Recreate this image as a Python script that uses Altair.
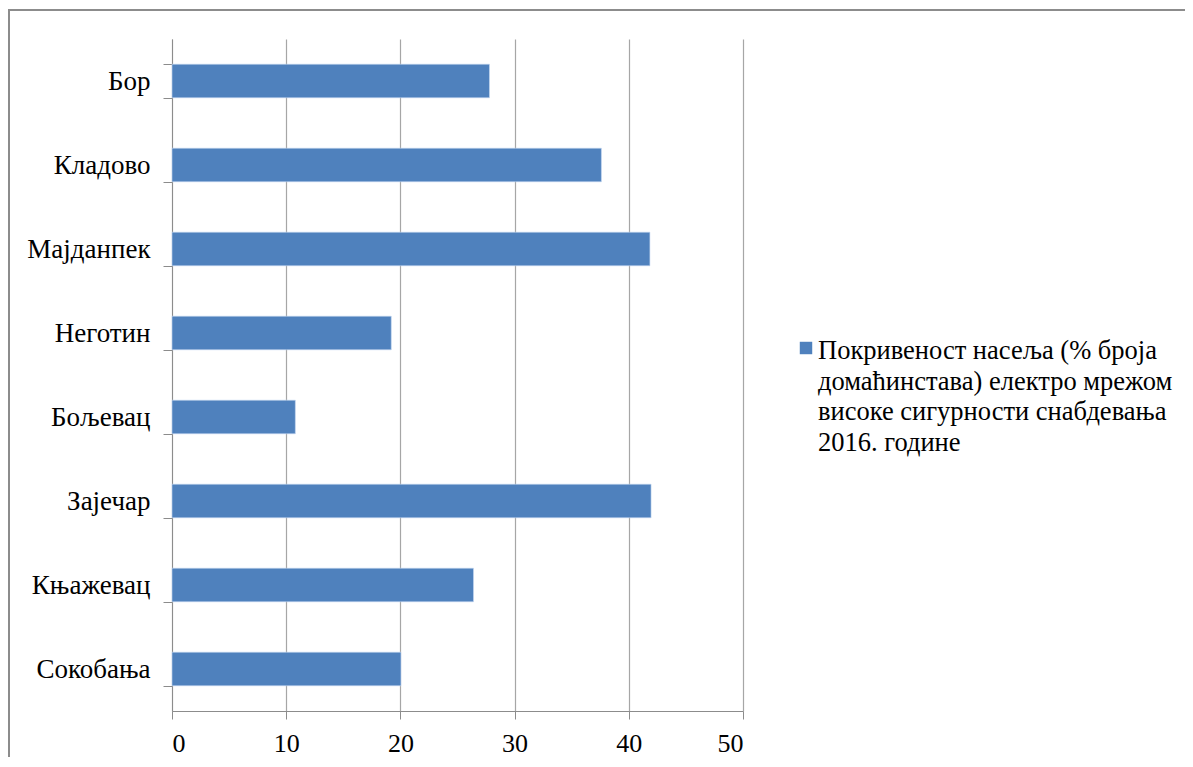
import altair as alt
import pandas as pd

categories = ["Бор", "Кладово", "Мајданпек", "Неготин", "Бољевац", "Зајечар", "Књажевац", "Сокобања"]
values = [27.8, 37.6, 41.85, 19.2, 10.8, 41.95, 26.4, 20.05]
x_ticks = [0, 10, 20, 30, 40, 50]
series_lines = ["Покривеност насеља (% броја", "домаћинстава) електро мрежом",
                "високе сигурности снабдевања", "2016. године"]

BLUE = "#4F81BD"
FONT = "Liberation Serif"

df = pd.DataFrame({"cat": categories, "val": values})

W, H = 571, 672

bars = alt.Chart(df).mark_bar(color=BLUE, stroke="#c6d9f1", strokeWidth=0.6).encode(
    y=alt.Y("cat:N", sort=categories,
            scale=alt.Scale(paddingInner=0.6, paddingOuter=0.3),
            axis=alt.Axis(title=None, tickBand="extent", tickSize=9, labelPadding=13,
                          labelFont=FONT, labelFontSize=27, labelColor="#000",
                          domainColor="#8c8c8c", tickColor="#8c8c8c", grid=False)),
    x=alt.X("val:Q", scale=alt.Scale(domain=[0, 50], nice=False),
            axis=alt.Axis(title=None, values=x_ticks, tickSize=8, labelPadding=11,
                          labelFont=FONT, labelFontSize=26, labelColor="#000",
                          domainColor="#8c8c8c", tickColor="#8c8c8c",
                          grid=True, gridColor="#a6a6a6", gridWidth=1.2)),
)

leg_df = pd.DataFrame({"name": [" ".join(series_lines)], "txt": ["\n".join(series_lines)]})

leg_sym = alt.Chart(leg_df).mark_square(color=BLUE, size=155, opacity=1).encode(
    x=alt.value(634), y=alt.value(309)
)
leg_txt = alt.Chart(leg_df).mark_text(
    align="left", baseline="alphabetic", font=FONT, fontSize=26.5, lineHeight=30.5,
    color="#000", lineBreak="\n"
).encode(x=alt.value(646), y=alt.value(320), text="txt:N")

frame_df = pd.DataFrame({"f": [1]})
frame = alt.Chart(frame_df).mark_rect(fillOpacity=0, stroke="#8c8c8c", strokeWidth=2).encode(
    x=alt.value(-163), y=alt.value(-29), x2=alt.value(1100), y2=alt.value(800)
)

chart = alt.layer(bars, leg_sym, leg_txt, frame).properties(
    width=W, height=H,
    background="white",
    autosize=alt.AutoSizeParams(type="none"),
    padding={"left": 164, "top": 31, "right": 442, "bottom": 46},
).configure(font=FONT).configure_view(stroke=None)

chart.save("out.html", embed_options={"renderer": "svg", "actions": False})
